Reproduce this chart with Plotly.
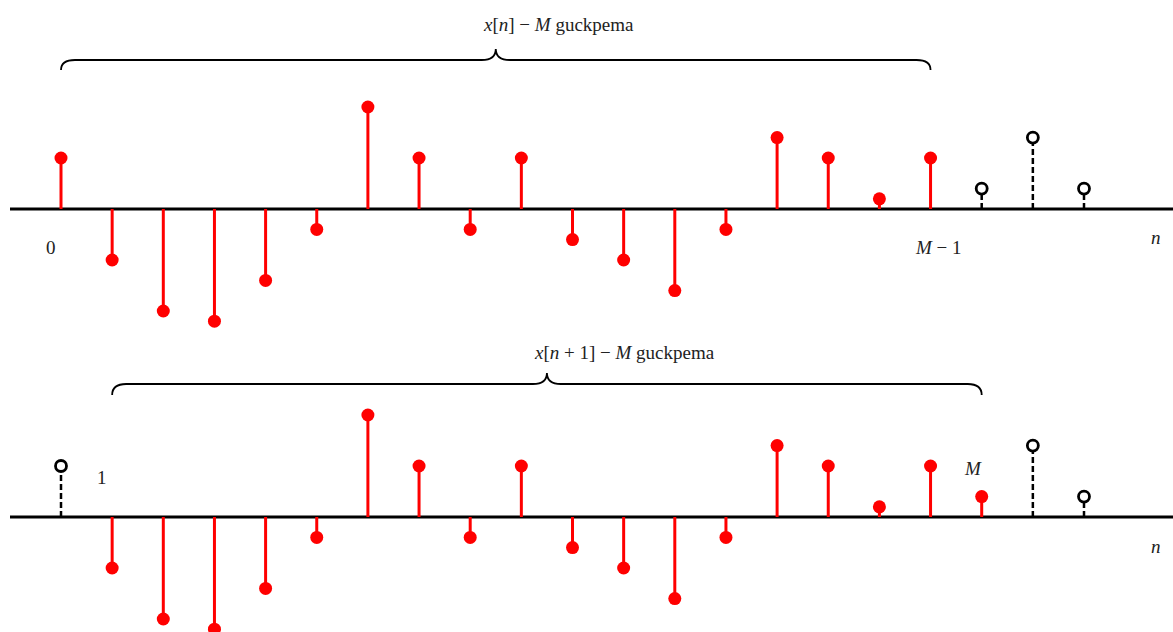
import plotly.graph_objects as go

# ---- data ----
n_idx = list(range(21))
x_vals = [1.0, -1.0, -2.0, -2.2, -1.4, -0.4, 2.0, 1.0, -0.4, 1.0, -0.6,
          -1.0, -1.6, -0.4, 1.4, 1.0, 0.2, 1.0, 0.4, 1.4, 0.4]
M = 18
top_window = (0, M - 1)      # x[n]
bot_window = (1, M)          # x[n+1]
top_title = "<i>x</i>[<i>n</i>] − <i>M</i> guckpema"
bot_title = "<i>x</i>[<i>n</i> + 1] − <i>M</i> guckpema"

W, H = 1173, 632
STEP = 51.15
X0PX = 61
UNIT = 51.0
TOP_BASE, BOT_BASE = 209, 517
xr = [-X0PX / STEP, (W - X0PX) / STEP]
# both y axes span the full figure height; baselines at pixel 209 and 517
yr_top = [(TOP_BASE - H) / UNIT, TOP_BASE / UNIT]
yr_bot = [(BOT_BASE - H) / UNIT, BOT_BASE / UNIT]

RED = "#ff0000"
BLK = "#000000"
FONT = "Liberation Serif"

fig = go.Figure()


def stems(window, yaxis):
    lo, hi = window
    red_x, red_y, blk_x, blk_y = [], [], [], []
    for i, v in zip(n_idx, x_vals):
        if lo <= i <= hi:
            red_x += [i, i, None]
            red_y += [0, v, None]
        else:
            blk_x += [i, i, None]
            blk_y += [0, v, None]
    fig.add_trace(go.Scatter(x=red_x, y=red_y, mode="lines", yaxis=yaxis,
                             line=dict(color=RED, width=3), hoverinfo="skip"))
    fig.add_trace(go.Scatter(x=blk_x, y=blk_y, mode="lines", yaxis=yaxis,
                             line=dict(color=BLK, width=2.5, dash="6px,3px"), hoverinfo="skip"))
    rx = [i for i in n_idx if lo <= i <= hi]
    bx = [i for i in n_idx if not (lo <= i <= hi)]
    fig.add_trace(go.Scatter(x=rx, y=[x_vals[i] for i in rx], mode="markers", yaxis=yaxis,
                             marker=dict(color=RED, size=13, symbol="circle")))
    fig.add_trace(go.Scatter(x=bx, y=[x_vals[i] for i in bx], mode="markers", yaxis=yaxis,
                             marker=dict(color="white", size=11, symbol="circle",
                                         line=dict(color=BLK, width=2.8))))


stems(top_window, "y")
stems(bot_window, "y2")

shapes = []
for yref in ("y", "y2"):
    shapes.append(dict(type="line", xref="paper", yref=yref, x0=10 / W, x1=1, y0=0, y1=0,
                       line=dict(color=BLK, width=3), layer="below"))


def brace_path(window, yH_px, yTip_px, yCusp_px, base_px):
    lo, hi = window
    yH = (base_px - yH_px) / UNIT
    yT = (base_px - yTip_px) / UNIT
    yC = (base_px - yCusp_px) / UNIT
    r = 14 / STEP
    x0, x1 = lo, hi
    mid = (x0 + x1) / 2
    return (f"M {x0},{yT} Q {x0},{yH} {x0 + r},{yH} L {mid - r},{yH} "
            f"Q {mid},{yH} {mid},{yC} Q {mid},{yH} {mid + r},{yH} "
            f"L {x1 - r},{yH} Q {x1},{yH} {x1},{yT}")


shapes.append(dict(type="path", xref="x", yref="y",
                   path=brace_path(top_window, 60, 70, 49, TOP_BASE),
                   line=dict(color=BLK, width=1.8)))
shapes.append(dict(type="path", xref="x", yref="y2",
                   path=brace_path(bot_window, 384, 395, 373, BOT_BASE),
                   line=dict(color=BLK, width=1.8)))

ann = []
txt = dict(family=FONT, size=19, color="#222222")
ann.append(dict(x=(top_window[0] + top_window[1]) / 2, y=(TOP_BASE - 24) / UNIT, xref="x", yref="y",
                text=top_title, showarrow=False, xanchor="left", xshift=-15, font=txt))
ann.append(dict(x=(bot_window[0] + bot_window[1]) / 2, y=(BOT_BASE - 352) / UNIT, xref="x", yref="y2",
                text=bot_title, showarrow=False, xanchor="left", xshift=-15, font=txt))
lab = dict(family=FONT, size=19, color="#222222")
ann.append(dict(x=top_window[0], y=-38 / UNIT, xref="x", yref="y", text="0",
                showarrow=False, xshift=-10, font=lab))
ann.append(dict(x=top_window[1], y=-38 / UNIT, xref="x", yref="y", text="<i>M</i> − 1",
                showarrow=False, xshift=8, font=lab))
ann.append(dict(x=1163 / W, y=-28 / UNIT, xref="paper", yref="y", text="<i>n</i>",
                showarrow=False, font=lab))
ann.append(dict(x=bot_window[0], y=40 / UNIT, xref="x", yref="y2", text="1",
                showarrow=False, xshift=-10, font=lab))
ann.append(dict(x=bot_window[1], y=49 / UNIT, xref="x", yref="y2", text="<i>M</i>",
                showarrow=False, xshift=-9, font=lab))
ann.append(dict(x=1163 / W, y=-29 / UNIT, xref="paper", yref="y2", text="<i>n</i>",
                showarrow=False, font=lab))

hide = dict(visible=False, showgrid=False, zeroline=False, fixedrange=True)
fig.update_layout(
    width=W, height=H, margin=dict(l=0, r=0, t=0, b=0),
    paper_bgcolor="white", plot_bgcolor="white", showlegend=False,
    xaxis=dict(range=xr, domain=[0, 1], **hide),
    yaxis=dict(range=yr_top, domain=[0, 1], **hide),
    yaxis2=dict(range=yr_bot, domain=[0, 1], overlaying="y", **hide),
    shapes=shapes, annotations=ann,
)

fig.write_html("out.html")
